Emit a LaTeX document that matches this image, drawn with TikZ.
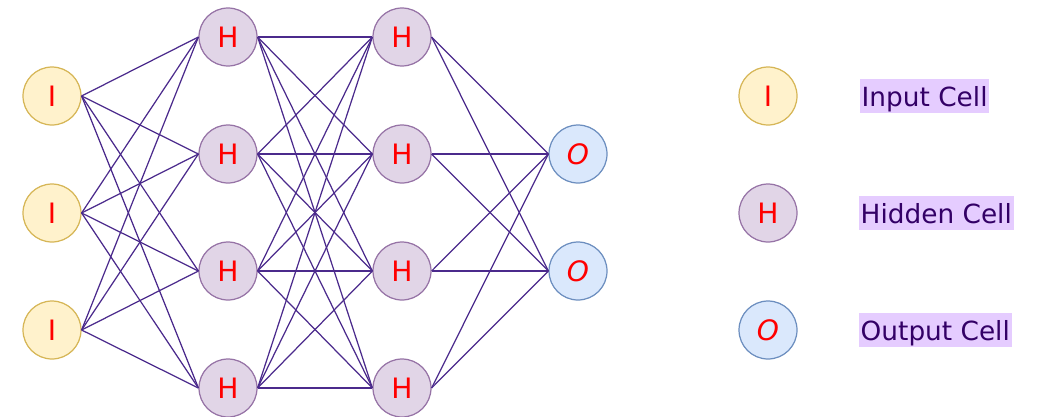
\documentclass[tikz,border=0pt]{standalone}
\usepackage{fontspec}
\setmainfont{DejaVu Sans}
\usepackage{xcolor}
\usetikzlibrary{positioning}
\definecolor{inFill}{HTML}{FFF2CC}
\definecolor{inDraw}{HTML}{D6B656}
\definecolor{hidFill}{HTML}{E1D5E7}
\definecolor{hidDraw}{HTML}{9673A6}
\definecolor{outFill}{HTML}{DAE8FC}
\definecolor{outDraw}{HTML}{6C8EBF}
\definecolor{linkPurple}{HTML}{4B2A8C}
\definecolor{tagFill}{HTML}{E5CCFF}
\definecolor{tagText}{HTML}{330066}
\tikzset{
  cell/.style={circle, draw, line width=0.7pt, minimum size=1.16cm, inner sep=0pt,
               text=red, font=\fontsize{16}{18}\selectfont},
  incell/.style={cell, draw=inDraw, fill=inFill},
  hidcell/.style={cell, draw=hidDraw, fill=hidFill},
  outcell/.style={cell, draw=outDraw, fill=outFill},
  link/.style={draw=linkPurple, line width=0.7pt},
  tag/.style={fill=tagFill, text=tagText, font=\fontsize{15}{18}\selectfont,
              inner xsep=1pt, inner ysep=0pt, text height=16pt, text depth=3.6pt},
}
\begin{document}
\begin{tikzpicture}[x=0.02cm, y=-0.02cm]
  \useasboundingbox (0,0) rectangle (1040,416);

  % layers
  \foreach \i/\y in {1/96, 2/213, 3/330}
    \node[incell] (in\i) at (52,\y) {I};
  \foreach \i/\y in {1/37, 2/154, 3/271, 4/388} {
    \node[hidcell] (ha\i) at (228,\y) {H};
    \node[hidcell] (hb\i) at (402,\y) {H};
  }
  \foreach \i/\y in {1/154, 2/271}
    \node[outcell] (out\i) at (578,\y) {\textit{O}};

  % connections
  \foreach \a in {1,...,3}
    \foreach \b in {1,...,4}
      \draw[link] (in\a.east) -- (ha\b.west);
  \foreach \a in {1,...,4}
    \foreach \b in {1,...,4}
      \draw[link] (ha\a.east) -- (hb\b.west);
  \foreach \a in {1,...,4}
    \foreach \b in {1,2}
      \draw[link] (hb\a.east) -- (out\b.west);

  % legend
  \node[incell] (keyin) at (768,96) {I};
  \node[hidcell] (keyhid) at (768,213) {H};
  \node[outcell] (keyout) at (768,330) {\textit{O}};
  \node[tag, right=1.24cm of keyin] (tagin) {Input Cell};
  \node[tag, right=1.22cm of keyhid] (taghid) {Hidden Cell};
  \node[tag, right=1.22cm of keyout] (tagout) {Output Cell};
\end{tikzpicture}
\end{document}
